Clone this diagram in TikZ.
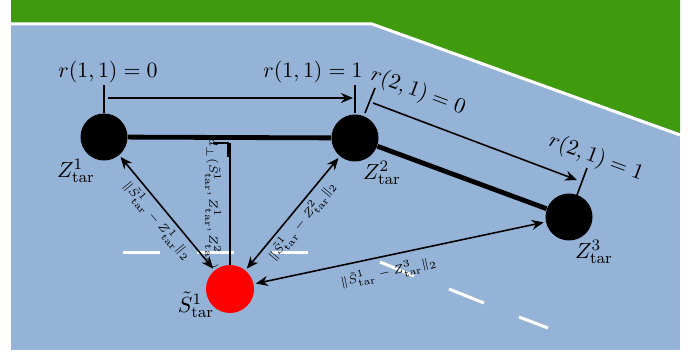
\documentclass[tikz,border=0pt]{standalone}
\usetikzlibrary{arrows.meta,positioning}
\definecolor{grass}{RGB}{63,154,14}
\definecolor{road}{RGB}{149,179,215}

\begin{document}
\begin{tikzpicture}[
	x=0.5pt, y=-0.5pt,
	font=\fontsize{11}{13}\selectfont,
	target/.style={circle, fill=black, minimum size=23.5pt, inner sep=0pt},
	ego/.style={circle, fill=red, minimum size=24pt, inner sep=0pt},
	link/.style={line width=2.4pt},
	tickline/.style={line width=0.8pt},
	arrow/.style={-{Stealth[length=6pt,width=5pt]}, line width=0.8pt},
	dist/.style={{Stealth[length=6pt,width=5pt]}-{Stealth[length=6pt,width=5pt]}, line width=0.8pt, shorten <=1pt, shorten >=1pt},
	distlabel/.style={font=\fontsize{6.5}{8}\selectfont, inner sep=2pt},
	lane/.style={draw=white, line width=1.5pt}
]

\useasboundingbox (0,0) rectangle (699,356);

% Road with the roadside above it.
\fill[road] (11,0) rectangle (680,350);
\fill[grass] (11,0) -- (680,0) -- (680,133) -- (372,24) -- (11,24) -- cycle;
\draw[white, line width=1.5pt] (11,24) -- (372,24) -- (680,135);

\foreach \xa/\ya/\xb/\yb in {123/253/160/253, 197/253/234/253, 272/253/308/253,
	380/262/414/276, 449/289/484/303, 519/317/548/328} {
	\draw[lane] (\xa,\ya) -- (\xb,\yb);
}

% Target points and the ego point.
\node[target] (z1) at (104,137) {};
\node[target] (z2) at (355,138) {};
\node[target] (z3) at (569,217) {};
\node[ego] (s) at (230,289) {};

\node (z1lab) at (76,171) {$Z^1_{\mathrm{tar}}$};
\node (z2lab) at (382,173) {$Z^2_{\mathrm{tar}}$};
\node (z3lab) at (594,252) {$Z^3_{\mathrm{tar}}$};
\node (slab) at (196,305) {$\tilde{S}^1_{\mathrm{tar}}$};

\draw[link] (z1) -- (z2);
\draw[link] (z2) -- (z3);

% Progress along each segment.
\coordinate (t1a) at (104,85);
\coordinate (t1b) at (104,113);
\coordinate (t2a) at (355,85);
\coordinate (t2b) at (355,113);
\coordinate (t3a) at (375,88);
\coordinate (t3b) at (365,113);
\coordinate (t4a) at (587,168);
\coordinate (t4b) at (577,195);
\draw[tickline] (t1a) -- (t1b);
\draw[tickline] (t2a) -- (t2b);
\draw[tickline] (t3a) -- (t3b);
\draw[tickline] (t4a) -- (t4b);

\coordinate (p1s) at (108,98);
\coordinate (p1e) at (353,98);
\coordinate (p2s) at (373,103);
\coordinate (p2e) at (577,180);
\draw[arrow] (p1s) -- (p1e);
\draw[arrow] (p2s) -- (p2e);

\node (r11a) at (108,72) {$r(1,1)=0$};
\node (r11b) at (313,72) {$r(1,1)=1$};
\node[rotate=-20.3] (r21a) at (418,92) {$r(2,1)=0$};
\node[rotate=-20.3] (r21b) at (596,158) {$r(2,1)=1$};

% Distances from the ego point.
\coordinate (foot) at (230,143);
\draw[line width=0.8pt] (foot) -- (s);
\draw[line width=0.8pt] (foot) ++(-17,0) -- ++(15,0) -- ++(0,14);
\node[rotate=-90, distlabel] (dlab) at (213,204) {$d_{\perp}(\tilde{S}^1_{\mathrm{tar}},Z^1_{\mathrm{tar}},Z^2_{\mathrm{tar}})$};

\draw[dist] (s) -- (z1)
	node[midway, sloped, below, distlabel] {$\|\tilde{S}^1_{\mathrm{tar}}-Z^1_{\mathrm{tar}}\|_2$};
\draw[dist] (s) -- (z2)
	node[midway, sloped, below, distlabel] {$\|\tilde{S}^1_{\mathrm{tar}}-Z^2_{\mathrm{tar}}\|_2$};
\draw[dist] (s) -- (z3)
	node[pos=0.45, sloped, below=2pt, distlabel] {$\|\tilde{S}^1_{\mathrm{tar}}-Z^3_{\mathrm{tar}}\|_2$};

\end{tikzpicture}
\end{document}
